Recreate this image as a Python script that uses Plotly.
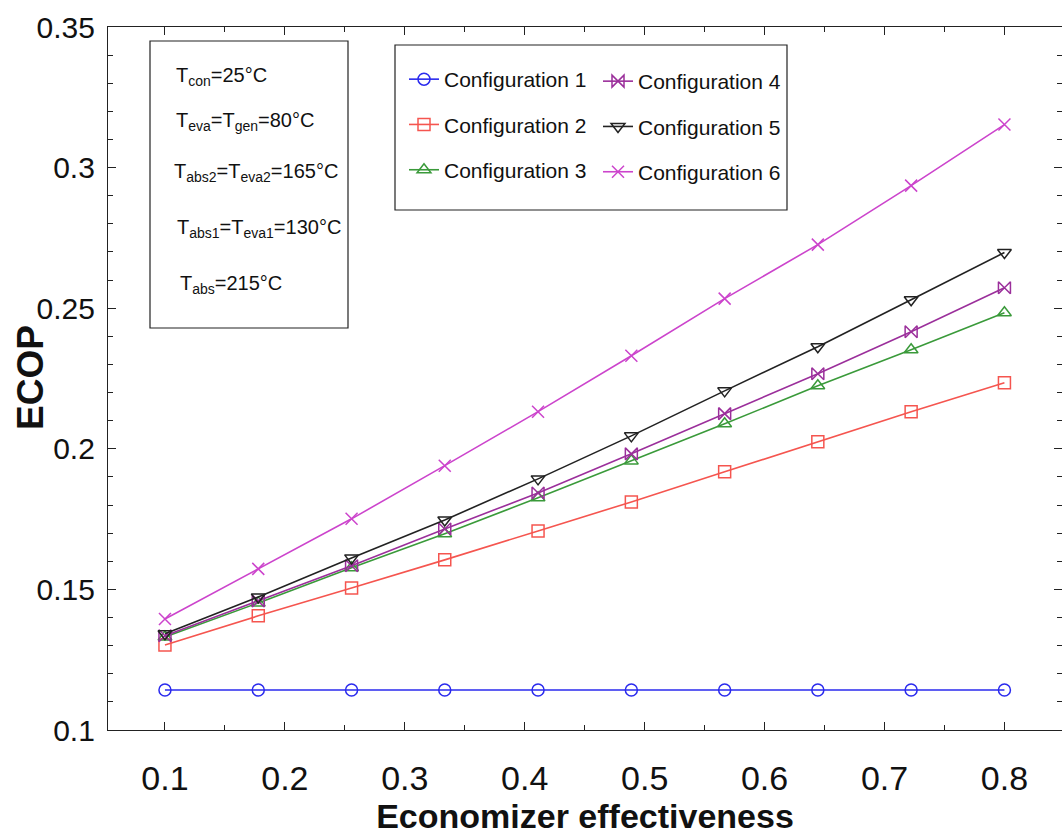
import plotly.graph_objects as go

effectiveness = [0.1, 0.1778, 0.2556, 0.3333, 0.4111, 0.4889, 0.5667, 0.6444, 0.7222, 0.8]
config1 = [0.1142, 0.1142, 0.1142, 0.1142, 0.1142, 0.1142, 0.1142, 0.1142, 0.1142, 0.1142]
config2 = [0.1302, 0.1406, 0.1505, 0.1605, 0.1708, 0.1811, 0.1918, 0.2025, 0.2132, 0.2235]
config3 = [0.1331, 0.1452, 0.1577, 0.1698, 0.1826, 0.1957, 0.2089, 0.2224, 0.2352, 0.2484]
config4 = [0.1335, 0.1459, 0.1584, 0.1715, 0.1843, 0.1982, 0.2125, 0.2267, 0.2416, 0.2573]
config5 = [0.1342, 0.1473, 0.1612, 0.1747, 0.1893, 0.2046, 0.2206, 0.2363, 0.2530, 0.2698]
config6 = [0.1395, 0.1573, 0.1751, 0.1940, 0.2132, 0.2331, 0.2534, 0.2726, 0.2936, 0.3153]

names = ["Configuration 1", "Configuration 2", "Configuration 3",
         "Configuration 4", "Configuration 5", "Configuration 6"]
series = [config1, config2, config3, config4, config5, config6]
colors = ["#2a2aee", "#f5554f", "#3a9a3a", "#9b2f9b", "#222222", "#cc44cc"]
symbols = ["circle-open", "square-open", "triangle-up-open",
           "bowtie-open", "triangle-down-open", "x-thin-open"]
legends = ["legend", "legend", "legend", "legend2", "legend2", "legend2"]

x_ticks = [0.1, 0.2, 0.3, 0.4, 0.5, 0.6, 0.7, 0.8]
y_ticks = [0.1, 0.15, 0.2, 0.25, 0.3, 0.35]
y_labels = ["0.1", "0.15", "0.2", "0.25", "0.3", "0.35"]

FONT = "Liberation Sans, Arial"

fig = go.Figure()
for i, (nm, ys) in enumerate(zip(names, series)):
    fig.add_trace(go.Scatter(
        x=effectiveness, y=ys, name=nm, mode="lines+markers",
        line=dict(color=colors[i], width=1.6),
        marker=dict(symbol=symbols[i], size=12, color=colors[i],
                    line=dict(color=colors[i], width=1.5)),
        legend=legends[i], legendgroup=nm,
    ))

W, H = 1062, 836
L, R, T, B = 108, 0, 27, 106
pw, ph = W - L - R, H - T - B


def px(x):
    return (x - L) / pw


def py(y):
    return (H - B - y) / ph


shapes = [
    dict(type="rect", xref="paper", yref="paper", x0=px(150), x1=px(348),
         y0=py(328), y1=py(41), line=dict(color="#222", width=1.2)),
    dict(type="rect", xref="paper", yref="paper", x0=px(395), x1=px(787),
         y0=py(210), y1=py(45), line=dict(color="#222", width=1.2)),
]

ann_texts = ["T<sub>con</sub>=25°C",
             "T<sub>eva</sub>=T<sub>gen</sub>=80°C",
             "T<sub>abs2</sub>=T<sub>eva2</sub>=165°C",
             "T<sub>abs1</sub>=T<sub>eva1</sub>=130°C",
             "T<sub>abs</sub>=215°C"]
ann_y = [76, 122, 173, 228, 284]
ann_x = [174, 174, 172, 175, 178]
annotations = []
for t, yy, xx in zip(ann_texts, ann_y, ann_x):
    annotations.append(dict(text=t, xref="paper", yref="paper", x=px(xx), y=py(yy),
                            xanchor="left", yanchor="middle", showarrow=False,
                            font=dict(family=FONT, size=20, color="#111")))

# y-axis title placed as rotated text
annotations.append(dict(text="<b>ECOP</b>", xref="paper", yref="paper",
                        x=px(30), y=py(378), xanchor="center", yanchor="middle",
                        textangle=-90, showarrow=False,
                        font=dict(family=FONT, size=37, color="#111")))

fig.update_layout(
    width=W, height=H,
    margin=dict(l=L, r=R, t=T, b=B, pad=0),
    paper_bgcolor="white", plot_bgcolor="white",
    shapes=shapes, annotations=annotations,
    legend=dict(x=px(404), y=py(59), xanchor="left", yanchor="top",
                bgcolor="rgba(0,0,0,0)", tracegroupgap=15, itemwidth=30,
                font=dict(family=FONT, size=21, color="#111")),
    legend2=dict(x=px(598), y=py(61), xanchor="left", yanchor="top",
                 bgcolor="rgba(0,0,0,0)", tracegroupgap=15, itemwidth=30,
                 font=dict(family=FONT, size=21, color="#111")),
    showlegend=True,
)

fig.update_xaxes(
    range=[0.0525, 0.848], tickvals=x_ticks, ticktext=[str(v) for v in x_ticks],
    ticks="inside", ticklen=8, tickcolor="#222", showline=True, linecolor="#222",
    linewidth=1.2, mirror="allticks", showgrid=False, zeroline=False,
    minor=dict(tickvals=[0.05, 0.15, 0.25, 0.35, 0.45, 0.55, 0.65, 0.75, 0.85],
               ticks="inside", ticklen=5, tickcolor="#222"),
    tickfont=dict(family=FONT, size=34, color="#111"), ticklabelstandoff=18,
    title=dict(text="<b>Economizer effectiveness</b>", standoff=2,
               font=dict(family=FONT, size=34, color="#111")),
)
fig.update_yaxes(
    range=[0.1, 0.35], tickvals=y_ticks, ticktext=y_labels,
    ticks="inside", ticklen=8, tickcolor="#222", showline=True, linecolor="#222",
    linewidth=1.2, mirror="allticks", showgrid=False, zeroline=False,
    minor=dict(dtick=0.01, tick0=0.1, ticks="inside", ticklen=5, tickcolor="#222"),
    tickfont=dict(family=FONT, size=30, color="#111"), ticklabelstandoff=6,
)

fig.write_html("out.html")
